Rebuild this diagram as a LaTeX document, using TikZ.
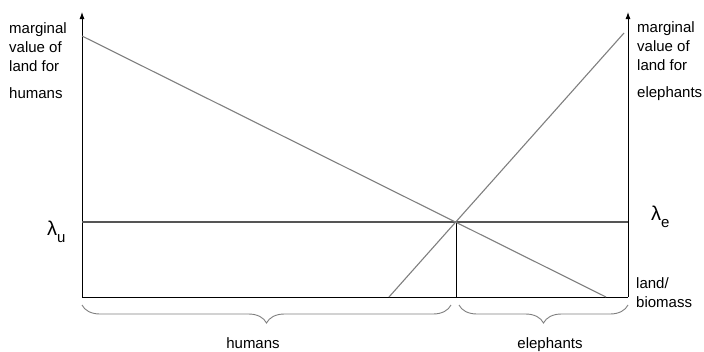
\documentclass[tikz,border=0pt]{standalone}
\usepackage{fontspec}
\setmainfont{Liberation Sans}
\usepackage{tikz}
\usetikzlibrary{arrows.meta,decorations.pathreplacing,positioning}
\definecolor{lnegray}{HTML}{7F7F7F}
\definecolor{levgray}{HTML}{555555}

\begin{document}
\begin{tikzpicture}[x=1pt,y=-1pt, every node/.style={font=\fontsize{15}{19}\selectfont,inner sep=0pt,align=left},
  axis/.style={-{Latex[length=7pt,width=5pt]},draw=black,line width=0.9pt},
  base/.style={draw=black,line width=0.9pt},
  curve/.style={draw=lnegray,line width=1.1pt},
  lev/.style={draw=levgray,line width=1.1pt},
  brc/.style={draw=lnegray,line width=0.9pt,decorate,decoration={brace,mirror,amplitude=18pt}}]
  \useasboundingbox (0,0) rectangle (704,351);
  % axes and grid lines
  \coordinate (o) at (82,297);
  \coordinate (e) at (628,297);
  \coordinate (ltop) at (82,12);
  \coordinate (rtop) at (628,12);
  \coordinate (x) at (456,222);
  \coordinate (xb) at (456,297);
  \coordinate (lu) at (82,222);
  \coordinate (le) at (628,222);
  \draw[axis] (o)--(ltop);
  \draw[axis] (e)--(rtop);
  \draw[base] (o)--(e);
  \draw[lev] (lu)--(le);
  \draw[base] (x)--(xb);
  % marginal value curves
  \coordinate (hs) at (82,36);
  \coordinate (he) at (606,297);
  \coordinate (es) at (389,297);
  \coordinate (ee) at (624,33);
  \draw[curve] (hs)--(he);
  \draw[curve] (es)--(ee);
  % braces
  \draw[brc] (82,305)--(451,305);
  \draw[brc] (459,305)--(628,305);
  \node[anchor=base] (hlab) at (253,348) {humans};
  \node[anchor=base] (elab) at (550,348) {elephants};
  % axis labels (base = last line)
  \node[anchor=base west] (lval) at (9,71) {marginal\\value of\\land for};
  \node[anchor=base west] (lhum) at (9,98) {humans};
  \node[anchor=base west] (rval) at (637,70) {marginal\\value of\\land for};
  \node[anchor=base west] (reph) at (637,97) {elephants};
  \node[anchor=base west] (lam) at (636,307) {land/\\biomass};
  \node[anchor=base west] (lamu) at (47,235) {\fontsize{20}{20}\selectfont λ\raisebox{-7pt}{\fontsize{15}{15}\selectfont u}};
  \node[anchor=base west] (lame) at (651,220) {\fontsize{20}{20}\selectfont λ\raisebox{-7pt}{\fontsize{15}{15}\selectfont e}};
\end{tikzpicture}
\end{document}
